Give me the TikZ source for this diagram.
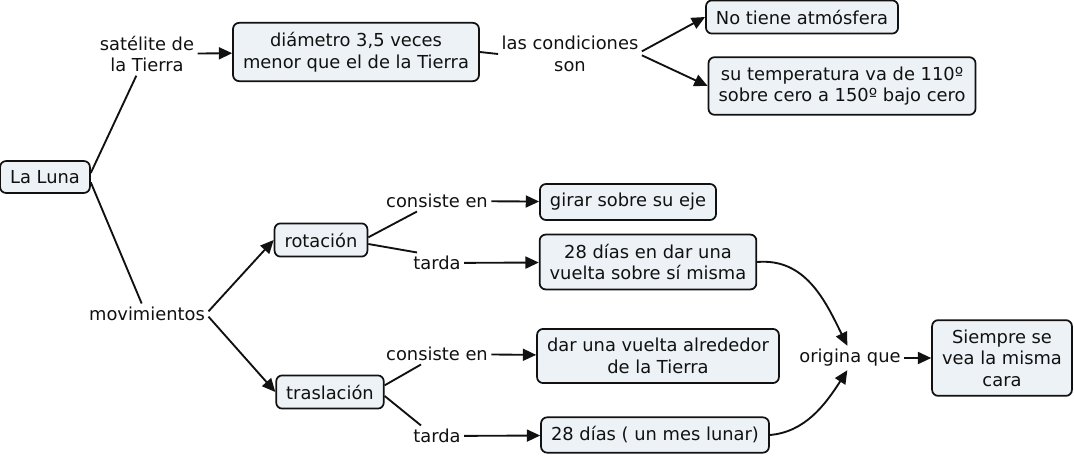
\documentclass[tikz,border=0pt]{standalone}
\usepackage{fontspec}
\setmainfont{DejaVu Sans}
\usetikzlibrary{arrows.meta}
\definecolor{cmInk}{HTML}{111111}
\definecolor{cmFill}{HTML}{ECF2F5}
\tikzset{
  concept/.style={draw=cmInk, fill=cmFill, rounded corners=4.5pt, line width=1.3pt, align=center, inner xsep=7.5pt, inner ysep=7pt, text=cmInk},
  phrase/.style ={align=center, inner sep=2.5pt, text=cmInk},
  link/.style   ={line width=1.4pt, draw=cmInk},
  arr/.style    ={link, -{Triangle[length=10pt,width=9pt]}},
}

\begin{document}
\begin{tikzpicture}[x=0.75pt, y=-0.75pt, font=\fontsize{13.4}{16.2}\selectfont]
\useasboundingbox (0,0) rectangle (1074,456);

% concepts
\node[concept] (luna)   at (45,177)   {La Luna};
\node[concept] (diam)   at (356,52)   {diámetro 3,5 veces\\menor que el de la Tierra};
\node[concept] (atmo)   at (802,17)   {No tiene atmósfera};
\node[concept] (temp)   at (842,86)   {su temperatura va de 110º\\sobre cero a 150º bajo cero};
\node[concept] (rota)   at (321,240)  {rotación};
\node[concept] (tras)   at (330,392)  {traslación};
\node[concept] (girar)  at (628,202)  {girar sobre su eje};
\node[concept] (vuelta) at (648,262)  {28 días en dar una\\vuelta sobre sí misma};
\node[concept] (alred)  at (658,356)  {dar una vuelta alrededor\\de la Tierra};
\node[concept] (mes)    at (655,435)  {28 días ( un mes lunar)};
\node[concept] (cara)   at (1002,358) {Siempre se\\vea la misma\\cara};

% linking phrases
\node[phrase] (sat)    at (147,54)  {satélite de\\la Tierra};
\node[phrase] (cond)   at (570,54)  {las condiciones\\son};
\node[phrase] (mov)    at (147,314) {movimientos};
\node[phrase] (consR)  at (437,201) {consiste en};
\node[phrase] (tardaR) at (437,263) {tarda};
\node[phrase] (consT)  at (437,354) {consiste en};
\node[phrase] (tardaT) at (437,436) {tarda};
\node[phrase] (orig)   at (850,358) {origina que};

% connectors
\draw[link] ([yshift=3pt]luna.east) -- ([xshift=-8pt]sat.south);
\draw[link] ([yshift=-4pt]luna.east) -- ([xshift=-4pt]mov.north);
\draw[link] (diam.east) -- (cond.west);
\draw[link] ([yshift=2pt]rota.east) -- ([xshift=-15pt]consR.south);
\draw[link] ([yshift=-3pt]rota.east) -- ([xshift=-15pt]tardaR.north);
\draw[link] ([yshift=5pt]tras.east) -- ([xshift=-12pt]consT.south);
\draw[link] ([yshift=-3pt]tras.east) -- ([xshift=-12pt]tardaT.north);
\foreach \a/\b in {sat/diam, consR/girar, tardaR/vuelta, consT/alred, tardaT/mes, orig/cara}{\draw[arr] (\a) -- (\b);}
\draw[arr] ([yshift=2pt]cond.east) -- (atmo.west);
\draw[arr] ([yshift=-1pt]cond.east) -- (temp.west);
\draw[arr] ([yshift=2pt]mov.east) -- (rota.west);
\draw[arr] ([yshift=-2pt]mov.east) -- (tras.west);
\draw[arr] (vuelta.east) .. controls (805,258) and (825,300) .. ([xshift=-2pt]orig.north);
\draw[arr] (mes.east) .. controls (805,432) and (825,405) .. ([xshift=-2pt]orig.south);
\end{tikzpicture}
\end{document}
